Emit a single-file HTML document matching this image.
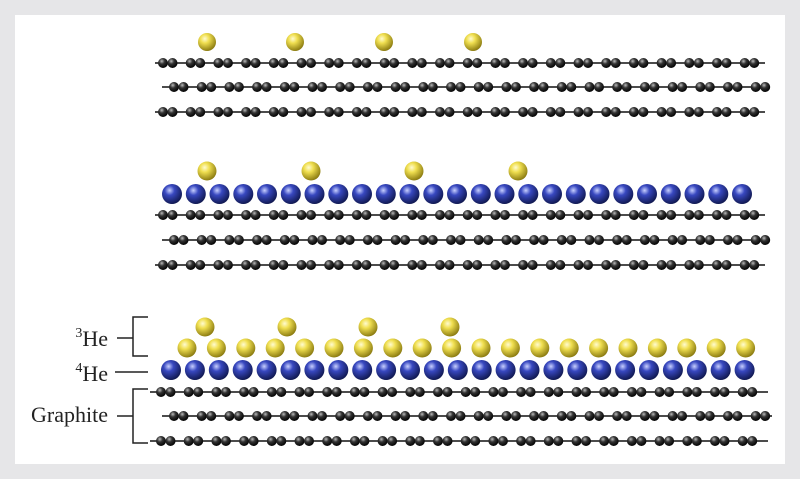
<!DOCTYPE html>
<html><head><meta charset="utf-8"><style>
html,body{margin:0;padding:0;background:#e6e6e8;}
#w{position:absolute;left:15px;top:15px;width:770px;height:449px;background:#fff;}
svg{position:absolute;left:0;top:0;}
text{font-family:"Liberation Serif",serif;font-size:22px;fill:#222;}
</style></head><body>
<div id="w"></div>
<svg id="s" width="800" height="479" xmlns="http://www.w3.org/2000/svg">
<defs>
<radialGradient id="gy" cx="0.38" cy="0.32" r="0.7"><stop offset="0" stop-color="#fffbd0"/><stop offset="0.35" stop-color="#f0df50"/><stop offset="1" stop-color="#8a7a10"/></radialGradient>
<radialGradient id="gb" cx="0.38" cy="0.32" r="0.7"><stop offset="0" stop-color="#c8d0ff"/><stop offset="0.35" stop-color="#3848c0"/><stop offset="1" stop-color="#101850"/></radialGradient>
<radialGradient id="gk" cx="0.38" cy="0.32" r="0.7"><stop offset="0" stop-color="#bbb"/><stop offset="0.4" stop-color="#333"/><stop offset="1" stop-color="#000"/></radialGradient>
</defs>
<g id="g"></g>
<g stroke="#222" stroke-width="1.5" fill="none">
<path d="M148 317 H133 V356 H148 M117 338 H133"/>
<path d="M115 372 H148"/>
<path d="M148 389 H133 V443 H148 M117 416 H133"/>
</g>
<text x="108" y="346" text-anchor="end"><tspan font-size="14" dy="-9">3</tspan><tspan dy="9">He</tspan></text>
<text x="108" y="381" text-anchor="end"><tspan font-size="14" dy="-9">4</tspan><tspan dy="9">He</tspan></text>
<text x="108" y="422" text-anchor="end">Graphite</text>
</svg>
<script>
var g=document.getElementById('g'),h='';
function c(x,y,r,f){h+='<circle cx="'+x.toFixed(1)+'" cy="'+y+'" r="'+r+'" fill="url(#'+f+')"/>';}
function row(y,x0,x1,first){h+='<line x1="'+x0+'" y1="'+y+'" x2="'+x1+'" y2="'+y+'" stroke="#111" stroke-width="1.5"/>';
 for(var x=first;x<x1-8;x+=27.7){c(x,y,5,'gk');c(x+9.5,y,5,'gk');}}
[207,295,384,473].forEach(function(x){c(x,42,9,'gy');});
row(63,155,765,163);row(87,162,770,174);row(112,155,765,163);
[207,311,414,518].forEach(function(x){c(x,171,9.5,'gy');});
for(var i=0;i<25;i++)c(172+i*23.75,194,10,'gb');
row(215,155,765,163);row(240,162,770,174);row(265,155,765,163);
[205,287,368,450].forEach(function(x){c(x,327,9.5,'gy');});
for(var i=0;i<20;i++)c(187+i*29.4,348,9.5,'gy');
for(var i=0;i<25;i++)c(171+i*23.9,370,10,'gb');
row(392,150,768,161);row(416,162,772,174);row(441,150,768,161);
g.innerHTML=h;
</script>
</body></html>
